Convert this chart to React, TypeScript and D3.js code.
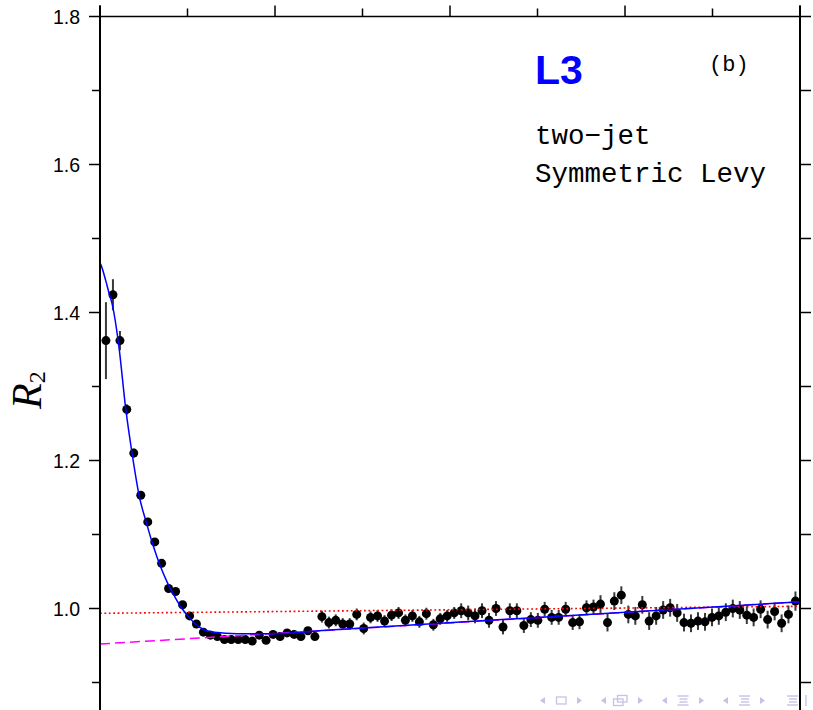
import React from "react";
import * as d3 from "d3";

// Measured two-particle correlation R2 versus Q (GeV), two-jet events
const Q = [
  0.034, 0.074, 0.114, 0.153, 0.193, 0.233, 0.273, 0.313, 0.352, 0.392,
  0.432, 0.472, 0.512, 0.551, 0.591, 0.631, 0.671, 0.711, 0.75, 0.79,
  0.83, 0.87, 0.91, 0.949, 0.989, 1.029, 1.069, 1.109, 1.148, 1.188,
  1.228, 1.268, 1.308, 1.347, 1.387, 1.427, 1.467, 1.507, 1.546, 1.586,
  1.626, 1.666, 1.706, 1.745, 1.785, 1.825, 1.865, 1.905, 1.944, 1.984,
  2.024, 2.064, 2.104, 2.143, 2.183, 2.223, 2.263, 2.303, 2.342, 2.382,
  2.422, 2.462, 2.502, 2.541, 2.581, 2.621, 2.661, 2.701, 2.74, 2.78,
  2.82, 2.86, 2.9, 2.939, 2.979, 3.019, 3.059, 3.099, 3.138, 3.178,
  3.218, 3.258, 3.298, 3.337, 3.377, 3.417, 3.457, 3.497, 3.536, 3.576,
  3.616, 3.656, 3.696, 3.735, 3.775, 3.815, 3.855, 3.895, 3.934, 3.974,
];

const R2 = [
  1.362, 1.424, 1.362, 1.269, 1.21, 1.153, 1.117, 1.09, 1.061, 1.027,
  1.023, 1.005, 0.99, 0.979, 0.968, 0.964, 0.962, 0.958, 0.958, 0.958,
  0.958, 0.956, 0.964, 0.957, 0.965, 0.962, 0.967, 0.965, 0.962, 0.97,
  0.962, 0.989, 0.981, 0.984, 0.979, 0.979, 0.992, 0.973, 0.988, 0.99,
  0.983, 0.991, 0.994, 0.984, 0.99, 0.982, 0.993, 0.978, 0.986, 0.99,
  0.994, 0.997, 0.994, 0.99, 0.997, 0.984, 1.0, 0.975, 0.997, 0.997,
  0.977, 0.985, 0.984, 0.999, 0.988, 0.988, 0.999, 0.981, 0.982, 1.001,
  1.002, 1.006, 0.981, 1.01, 1.018, 0.992, 0.99, 1.005, 0.983, 0.99,
  0.998, 1.001, 0.994, 0.981, 0.98, 0.983, 0.982, 0.988, 0.99, 0.995,
  1.0, 0.998, 0.991, 0.988, 0.999, 0.985, 0.996, 0.98, 0.992, 1.01,
];

const R2_ERR = [
  0.052, 0.021, 0.013, 0.007, 0.006, 0.005, 0.005, 0.005, 0.005, 0.005,
  0.005, 0.005, 0.005, 0.005, 0.004, 0.004, 0.004, 0.004, 0.004, 0.004,
  0.004, 0.004, 0.004, 0.004, 0.004, 0.004, 0.004, 0.004, 0.004, 0.004,
  0.004, 0.008, 0.008, 0.008, 0.008, 0.008, 0.008, 0.008, 0.008, 0.008,
  0.008, 0.008, 0.008, 0.008, 0.008, 0.008, 0.008, 0.008, 0.008, 0.008,
  0.008, 0.01, 0.01, 0.01, 0.01, 0.01, 0.01, 0.01, 0.01, 0.01,
  0.01, 0.01, 0.01, 0.01, 0.01, 0.01, 0.01, 0.01, 0.01, 0.01,
  0.01, 0.012, 0.012, 0.012, 0.012, 0.012, 0.012, 0.012, 0.012, 0.012,
  0.012, 0.012, 0.012, 0.012, 0.012, 0.012, 0.012, 0.012, 0.012, 0.012,
  0.012, 0.012, 0.012, 0.012, 0.012, 0.012, 0.012, 0.012, 0.012, 0.013,
];

// Symmetric Levy fit curve
const FIT_Q = [
  0, 0.006, 0.034, 0.053, 0.069, 0.107, 0.147, 0.185, 0.225, 0.265, 0.305,
  0.345, 0.385, 0.425, 0.465, 0.503, 0.545, 0.589, 0.655, 0.781, 0.99,
  1.314, 2.5, 4.0,
];
const FIT_R2 = [
  1.467, 1.464, 1.442, 1.425, 1.412, 1.356, 1.27, 1.207, 1.151, 1.116, 1.084,
  1.057, 1.035, 1.017, 1.001, 0.99, 0.979, 0.972, 0.968, 0.966, 0.966,
  0.971, 0.988, 1.009,
];

// Long-range baseline of the fit (dashed) and reference line (dotted)
const BASE_Q = [0, 4];
const BASE_R2 = [0.952, 1.009];
const REF_Q = [0, 4];
const REF_R2 = [0.9935, 1.003];

const Y_MAJOR = [1.0, 1.2, 1.4, 1.6, 1.8];
const Y_LABELS = ["1.0", "1.2", "1.4", "1.6", "1.8"];
const Y_MINOR = [0.9, 1.1, 1.3, 1.5, 1.7];
const X_MAJOR = [0, 1, 2, 3, 4];
const X_MINOR = [0.5, 1.5, 2.5, 3.5];

const W = 813;
const H = 710;

const NAV = "#c3c3e6";

function TriLeft({ x, y }: { x: number; y: number }) {
  return <path d={`M${x + 5},${y - 3.5}L${x},${y}L${x + 5},${y + 3.5}Z`} fill={NAV} />;
}
function TriRight({ x, y }: { x: number; y: number }) {
  return <path d={`M${x},${y - 3.5}L${x + 5},${y}L${x},${y + 3.5}Z`} fill={NAV} />;
}
function Lines({ x, y }: { x: number; y: number }) {
  return (
    <g stroke={NAV} strokeWidth={1.4} fill="none">
      <line x1={x} x2={x + 11} y1={y - 4} y2={y - 4} />
      <line x1={x + 2} x2={x + 10} y1={y - 1} y2={y - 1} />
      <line x1={x + 2} x2={x + 10} y1={y + 2} y2={y + 2} />
      <line x1={x} x2={x + 11} y1={y + 5} y2={y + 5} />
    </g>
  );
}

export default function App() {
  const x = d3.scaleLinear().domain([0, 4]).range([100, 800]);
  const y = d3.scaleLinear().domain([0.8, 1.8]).range([756.5, 16.5]);

  const line = d3
    .line<[number, number]>()
    .x((d) => x(d[0]))
    .y((d) => y(d[1]));
  const smooth = d3
    .line<[number, number]>()
    .x((d) => x(d[0]))
    .y((d) => y(d[1]))
    .curve(d3.curveMonotoneX);

  const fitPath = smooth(FIT_Q.map((q, i) => [q, FIT_R2[i]] as [number, number])) || "";
  const basePath = line(BASE_Q.map((q, i) => [q, BASE_R2[i]] as [number, number])) || "";
  const refPath = line(REF_Q.map((q, i) => [q, REF_R2[i]] as [number, number])) || "";

  const left = x(0);
  const right = x(4);
  const top = y(1.8);

  return (
    <svg
      width={W}
      height={H}
      viewBox={`0 0 ${W} ${H}`}
      style={{ position: "absolute", left: 0, top: 0, background: "#fff" }}
    >
      <rect x={0} y={0} width={W} height={H} fill="#fff" />

      {/* error bars */}
      <g stroke="#3a3a3a" strokeWidth={2}>
        {Q.map((q, i) => (
          <line
            key={"e" + i}
            x1={x(q)}
            x2={x(q)}
            y1={y(R2[i] - R2_ERR[i])}
            y2={y(R2[i] + R2_ERR[i])}
          />
        ))}
      </g>
      {/* data points */}
      <g fill="#000">
        {Q.map((q, i) => (
          <circle key={"p" + i} cx={x(q)} cy={y(R2[i])} r={4.5} />
        ))}
      </g>

      {/* curves */}
      <path d={refPath} fill="none" stroke="#ff0000" strokeWidth={1.6} strokeDasharray="1.8,2.6" />
      <path d={basePath} fill="none" stroke="#ff00ff" strokeWidth={1.5} strokeDasharray="10,5" />
      <path d={fitPath} fill="none" stroke="#0000ff" strokeWidth={1.5} />

      {/* frame */}
      <g stroke="#000" fill="none">
        <line x1={left} x2={left} y1={top - 11} y2={H + 10} strokeWidth={2} />
        <line x1={right} x2={right} y1={top - 11} y2={H + 10} strokeWidth={2} />
        <line x1={left} x2={right} y1={top} y2={top} strokeWidth={1.6} />
        {Y_MAJOR.map((v) => (
          <line key={"ym" + v} x1={left - 11} x2={left} y1={y(v)} y2={y(v)} strokeWidth={1.5} />
        ))}
        {Y_MINOR.map((v) => (
          <line key={"yn" + v} x1={left - 8} x2={left} y1={y(v)} y2={y(v)} strokeWidth={1.5} />
        ))}
        {[...Y_MAJOR, ...Y_MINOR].map((v) => (
          <line key={"yr" + v} x1={right} x2={right + 11} y1={y(v)} y2={y(v)} strokeWidth={1.5} />
        ))}
        {X_MAJOR.map((v) => (
          <line key={"xm" + v} x1={x(v)} x2={x(v)} y1={top - 11} y2={top} strokeWidth={1.5} />
        ))}
        {X_MINOR.map((v) => (
          <line key={"xn" + v} x1={x(v)} x2={x(v)} y1={top - 8} y2={top} strokeWidth={1.5} />
        ))}
      </g>

      {/* tick labels */}
      <g fontFamily="'Liberation Sans', Arial, sans-serif" fontSize={19.5} fill="#000" textAnchor="end">
        {Y_MAJOR.map((v, i) => (
          <text key={"yl" + v} x={80} y={y(v)} dy="0.36em">
            {Y_LABELS[i]}
          </text>
        ))}
      </g>

      {/* axis title */}
      <text
        transform="translate(41,409) rotate(-90)"
        fontFamily="'Liberation Serif', 'Times New Roman', serif"
        fill="#000"
      >
        <tspan fontStyle="italic" fontSize={42}>R</tspan>
        <tspan fontSize={24} dy={4}>2</tspan>
      </text>

      {/* annotations */}
      <text
        x={535}
        y={83.5}
        fontFamily="'Liberation Sans', Arial, sans-serif"
        fontWeight="bold"
        fontSize={41}
        fill="#0000ff"
      >
        L3
      </text>
      <g fontFamily="'Liberation Mono', 'DejaVu Sans Mono', monospace" fill="#000">
        <text x={709} y={71} fontSize={22}>(b)</text>
        <text x={535} y={144} fontSize={27.5}>two−jet</text>
        <text x={535} y={181.5} fontSize={27.5}>Symmetric Levy</text>
      </g>

      {/* navigation symbols */}
      <g>
        <TriLeft x={540} y={700.5} />
        <rect x={556.5} y={697} width={9.5} height={7} fill="none" stroke={NAV} strokeWidth={1.3} />
        <TriRight x={577} y={700.5} />
        <TriLeft x={601} y={700.5} />
        <rect x={613.5} y={699} width={9.5} height={6.5} fill="none" stroke={NAV} strokeWidth={1.3} />
        <rect x={617.5} y={695.5} width={9.5} height={6.5} fill="none" stroke={NAV} strokeWidth={1.3} />
        <TriRight x={638} y={700.5} />
        <TriLeft x={662} y={700.5} />
        <Lines x={677.5} y={700} />
        <TriRight x={699} y={700.5} />
        <TriLeft x={723} y={700.5} />
        <Lines x={739} y={700} />
        <TriRight x={760} y={700.5} />
        <Lines x={787} y={700} />
        <line x1={806} x2={806} y1={695} y2={706} stroke={NAV} strokeWidth={1.4} />
      </g>
    </svg>
  );
}
